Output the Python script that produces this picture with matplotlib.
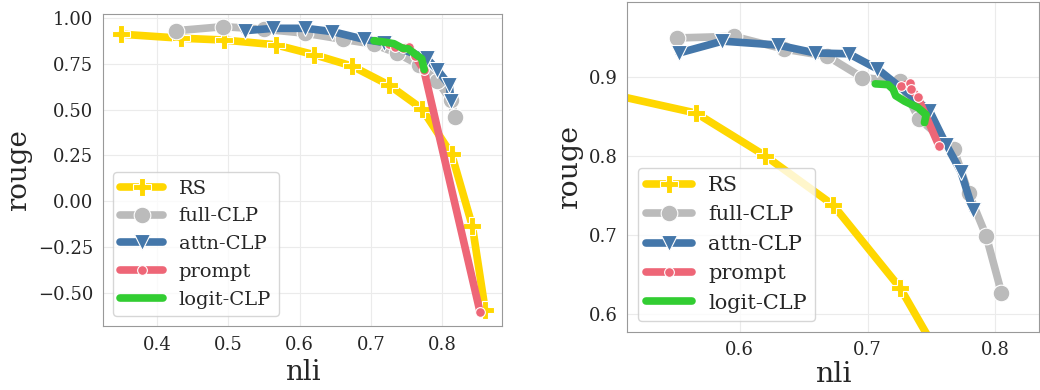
import matplotlib
matplotlib.use("Agg")
import matplotlib.pyplot as plt
import seaborn as sns

sns.set_style("whitegrid")
plt.rcParams["font.family"] = ["DejaVu Serif"]

# RS curve (same in both panels)
rs_x = [0.349, 0.433, 0.4935, 0.566, 0.620, 0.673, 0.7255, 0.771, 0.813, 0.842, 0.860]
rs_y = [0.912, 0.890, 0.880, 0.854, 0.800, 0.738, 0.633, 0.505, 0.255, -0.137, -0.596]

# left panel
full_x_a = [0.427, 0.4927, 0.5498, 0.608, 0.660, 0.704, 0.737, 0.767, 0.793, 0.812, 0.8176]
full_y_a = [0.931, 0.953, 0.939, 0.917, 0.884, 0.857, 0.807, 0.744, 0.655, 0.550, 0.458]
attn_x_a = [0.5226, 0.563, 0.608, 0.6458, 0.690, 0.718, 0.778, 0.793, 0.8096, 0.812]
attn_y_a = [0.931, 0.944, 0.944, 0.926, 0.884, 0.866, 0.780, 0.716, 0.634, 0.548]
prompt_x_a = [0.725, 0.733, 0.745, 0.7534, 0.762, 0.774, 0.8527]
prompt_y_a = [0.860, 0.840, 0.835, 0.844, 0.790, 0.716, -0.605]
logit_x_a = [0.704, 0.715, 0.723, 0.732, 0.744, 0.752, 0.760, 0.771, 0.7745]
logit_y_a = [0.876, 0.871, 0.866, 0.860, 0.835, 0.832, 0.808, 0.778, 0.718]

# right panel
full_x_b = [0.551, 0.5955, 0.6346, 0.6685, 0.6959, 0.7253, 0.740, 0.7674, 0.779, 0.7927, 0.8047]
full_y_b = [0.949, 0.951, 0.935, 0.926, 0.899, 0.894, 0.847, 0.809, 0.753, 0.699, 0.627]
attn_x_b = [0.5526, 0.5865, 0.630, 0.659, 0.6854, 0.7076, 0.7484, 0.7615, 0.773, 0.7823]
attn_y_b = [0.930, 0.945, 0.940, 0.930, 0.929, 0.910, 0.857, 0.814, 0.780, 0.732]
prompt_x_b = [0.7263, 0.7328, 0.734, 0.7393, 0.7557]
prompt_y_b = [0.888, 0.892, 0.884, 0.874, 0.813]
logit_x_b = [0.706, 0.716, 0.720, 0.722, 0.729, 0.7393, 0.7458, 0.7445]
logit_y_b = [0.891, 0.890, 0.884, 0.876, 0.869, 0.861, 0.852, 0.842]

c_rs = "#FFD700"
c_full = "#BBBBBB"
c_attn = "#4477AA"
c_prompt = "#EE6677"
c_logit = "#32CD32"


def draw(ax, fx, fy, ax_, ay, px, py, lx, ly, legsize, labsize, pad):
    ax.plot(rs_x, rs_y, color=c_rs, lw=5.5, marker="P", ms=13, mec="white", mew=0.8, label="RS")
    ax.plot(fx, fy, color=c_full, lw=5.5, marker="o", ms=12, mec="white", mew=0.8, label="full-CLP")
    ax.plot(ax_, ay, color=c_attn, lw=5.5, marker="v", ms=12, mec="white", mew=0.8, label="attn-CLP")
    ax.plot(px, py, color=c_prompt, lw=5.5, marker="o", ms=7, mec="white", mew=0.8, label="prompt")
    ax.plot(lx, ly, color=c_logit, lw=5.5, label="logit-CLP")
    ax.set_xlabel("nli", fontsize=labsize, labelpad=pad)
    ax.set_ylabel("rouge", fontsize=labsize)
    ax.tick_params(labelsize=13)
    for s in ax.spines.values():
        s.set_color("0.6")
    ax.grid(color="#ebebeb")
    ax.legend(loc="lower left", fontsize=legsize, handlelength=2.2, labelspacing=0.5, numpoints=1)


fig = plt.figure(figsize=(10.4, 3.9), dpi=100)
ax1 = fig.add_axes([0.099, 0.164, 0.384, 0.800])
ax2 = fig.add_axes([0.603, 0.150, 0.396, 0.846])

draw(ax1, full_x_a, full_y_a, attn_x_a, attn_y_a, prompt_x_a, prompt_y_a, logit_x_a, logit_y_a, 14, 20, 4)
ax1.set_xlim(0.324, 0.884)
ax1.set_ylim(-0.683, 1.022)
ax1.set_xticks([0.4, 0.5, 0.6, 0.7, 0.8])
ax1.set_yticks([-0.5, -0.25, 0, 0.25, 0.5, 0.75, 1.0])

draw(ax2, full_x_b, full_y_b, attn_x_b, attn_y_b, prompt_x_b, prompt_y_b, logit_x_b, logit_y_b, 15, 20.5, 1)
ax2.set_xlim(0.512, 0.834)
ax2.set_ylim(0.578, 0.995)
ax2.set_xticks([0.6, 0.7, 0.8])
ax2.set_yticks([0.6, 0.7, 0.8, 0.9])

fig.savefig("out.png", dpi=100)
